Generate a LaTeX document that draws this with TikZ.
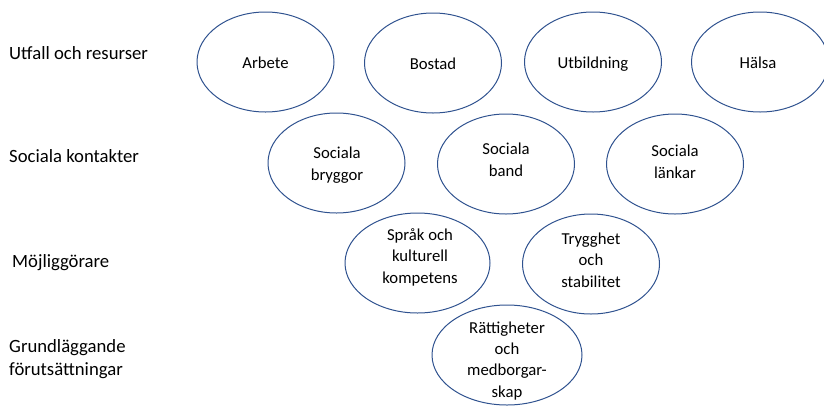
\documentclass[tikz,border=0pt]{standalone}
\usepackage{fontspec}
\setmainfont{Carlito}
\usetikzlibrary{shapes.geometric}
\definecolor{ringblue}{HTML}{2F528F}
\tikzset{
  ring/.style={ellipse, draw=ringblue, line width=1pt, minimum width=137pt, minimum height=100pt, inner sep=0pt},
  ringtext/.style={align=center, anchor=base, inner sep=0pt, font=\fontsize{16.7}{21.3}\selectfont},
  rowlabel/.style={anchor=base west, align=left, inner sep=0pt, font=\fontsize{18.7}{22.5}\selectfont}
}
\begin{document}
\begin{tikzpicture}[x=1pt,y=-1pt]
\useasboundingbox (0,0) rectangle (824,405);
\begin{scope}
\clip (0,0) rectangle (824,405);
\node[ring] (arbete) at (265.5,62) {};
\node[ring] (bostad) at (433,63) {};
\node[ring] (utb) at (593,62) {};
\node[ring] (halsa) at (760,62) {};
\node[ring] (bryggor) at (336.5,163) {};
\node[ring] (band) at (506,164) {};
\node[ring] (lankar) at (675,164) {};
\node[ring, minimum width=145pt] (sprak) at (417.5,263) {};
\node[ring] (trygg) at (591,264) {};
\node[ring, minimum width=150pt] (ratt) at (507,355) {};
\end{scope}
% base anchor = baseline of the last line
\node[ringtext] (t1) at (265.5,68) {Arbete};
\node[ringtext] (t2) at (433,69) {Bostad};
\node[ringtext] (t3) at (593,68) {Utbildning};
\node[ringtext] (t4) at (758,68) {Hälsa};
\node[ringtext] (t5) at (337,180) {Sociala\\bryggor};
\node[ringtext] (t6) at (506,176) {Sociala\\band};
\node[ringtext] (t7) at (675,178) {Sociala\\länkar};
\node[ringtext] (t8) at (420,283) {Språk och\\kulturell\\kompetens};
\node[ringtext] (t9) at (591,287) {Trygghet\\och\\stabilitet};
\node[ringtext] (t10) at (507,397) {Rättigheter\\och\\medborgar-\\skap};
\node[rowlabel] (l1) at (9,59) {Utfall och resurser};
\node[rowlabel] (l2) at (9,162) {Sociala kontakter};
\node[rowlabel] (l3) at (12,267) {Möjliggörare};
\node[rowlabel] (l4) at (9,375) {Grundläggande\\förutsättningar};
\end{tikzpicture}
\end{document}
